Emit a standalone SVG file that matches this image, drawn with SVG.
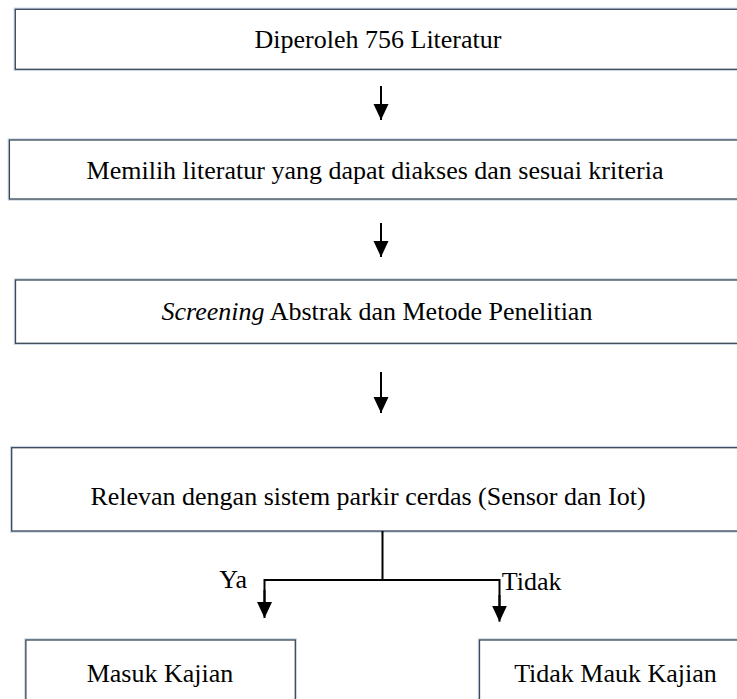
<svg xmlns="http://www.w3.org/2000/svg" width="737" height="699" viewBox="0 0 737 699">
<style>
.box{fill:#ffffff;stroke:#3a4858;stroke-width:1.3}
.halo{fill:none;stroke:#c9d7e6;stroke-width:3.5}
.t{font-family:"Liberation Serif","Times New Roman",serif;font-size:26px;fill:#000}
.c{text-anchor:middle}
.ln{stroke:#000;stroke-width:2;fill:none}
</style>
<defs>
<marker id="ah" markerUnits="userSpaceOnUse" markerWidth="16" markerHeight="16" refX="16" refY="7.5" orient="auto" viewBox="0 0 16 15">
<path d="M0,0 L16,7.5 L0,15 z" fill="#000"/>
</marker>
</defs>
<rect width="737" height="699" fill="#ffffff"/>
<g id="n1">
<rect class="halo" x="15.3" y="9.3" width="760" height="60"/>
<rect class="box" x="15.3" y="9.3" width="760" height="60"/>
<text class="t c" x="378" y="48.3">Diperoleh 756 Literatur</text>
</g>
<g id="n2">
<rect class="halo" x="9.4" y="140" width="760" height="59"/>
<rect class="box" x="9.4" y="140" width="760" height="59"/>
<text class="t c" x="375" y="179">Memilih literatur yang dapat diakses dan sesuai kriteria</text>
</g>
<g id="n3">
<rect class="halo" x="15.5" y="280" width="760" height="63.3"/>
<rect class="box" x="15.5" y="280" width="760" height="63.3"/>
<text class="t c" x="377" y="320"><tspan font-style="italic">Screening</tspan> Abstrak dan Metode Penelitian</text>
</g>
<g id="n4">
<rect class="halo" x="11.7" y="447.7" width="760" height="83.3"/>
<rect class="box" x="11.7" y="447.7" width="760" height="83.3"/>
<text class="t c" x="368" y="505">Relevan dengan sistem parkir cerdas (Sensor dan Iot)</text>
</g>
<g id="n5">
<rect class="halo" x="25.9" y="640" width="269.4" height="80"/>
<rect class="box" x="25.9" y="640" width="269.4" height="80"/>
<text class="t c" x="160" y="682">Masuk Kajian</text>
</g>
<g id="n6">
<rect class="halo" x="479.5" y="640" width="300" height="80"/>
<rect class="box" x="479.5" y="640" width="300" height="80"/>
<text class="t c" x="615.5" y="682">Tidak Mauk Kajian</text>
</g>
<g id="connectors">
<line class="ln" x1="381" y1="86" x2="381" y2="120" marker-end="url(#ah)"/>
<line class="ln" x1="381" y1="223" x2="381" y2="257" marker-end="url(#ah)"/>
<line class="ln" x1="381" y1="372" x2="381" y2="413" marker-end="url(#ah)"/>
<line class="ln" x1="382.5" y1="531" x2="382.5" y2="580"/>
<polyline class="ln" points="264.5,604 264.5,580 499.5,580 499.5,607"/>
<line class="ln" x1="264.5" y1="590" x2="264.5" y2="618" marker-end="url(#ah)"/>
<line class="ln" x1="499.5" y1="595" x2="499.5" y2="621.7" marker-end="url(#ah)"/>
<text class="t" x="247" y="588" text-anchor="end">Ya</text>
<text class="t" x="501.7" y="590">Tidak</text>
</g>
</svg>
